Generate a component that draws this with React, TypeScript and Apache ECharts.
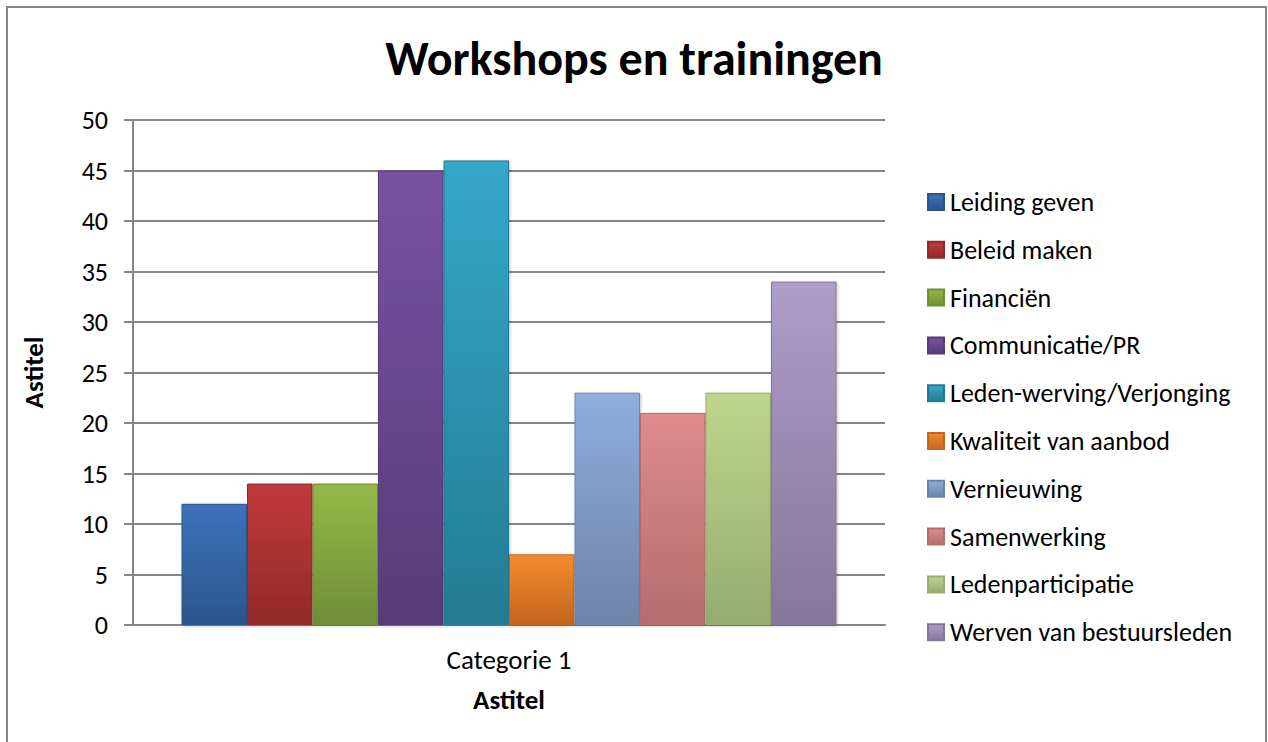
import React, { useEffect, useRef } from "react";
import * as echarts from "echarts";

const categories = ["Categorie 1"];
const seriesNames = [
  "Leiding geven",
  "Beleid maken",
  "Financiën",
  "Communicatie/PR",
  "Leden-werving/Verjonging",
  "Kwaliteit van aanbod",
  "Vernieuwing",
  "Samenwerking",
  "Ledenparticipatie",
  "Werven van bestuursleden",
];
const seriesValues = [12, 14, 14, 45, 46, 7, 23, 21, 23, 34];
const topColors = ["#3c73bc", "#c23a3b", "#94b948", "#7653a2", "#35a7c9", "#f48b2f", "#90addd", "#e18b8b", "#bed58e", "#ad9dc9"];
const bottomColors = ["#2b558d", "#92292a", "#6f8e37", "#573c78", "#247b92", "#c4661e", "#6d84aa", "#b36d6d", "#96ac70", "#85779c"];
const yTicks = [0, 5, 10, 15, 20, 25, 30, 35, 40, 45, 50];

const FONT = "Carlito, Lato, 'Open Sans', sans-serif";

export default function App() {
  const ref = useRef<HTMLDivElement>(null);
  useEffect(() => {
    if (!ref.current) return;
    const chart = echarts.init(ref.current, undefined, { renderer: "svg" });
    const series = seriesNames.map((name, i) => ({
      name,
      type: "bar",
      barGap: "0%",
      barCategoryGap: "12.9%",
      data: [seriesValues[i]],
      itemStyle: {
        color: new echarts.graphic.LinearGradient(0, 0, 0, 1, [
          { offset: 0, color: topColors[i] },
          { offset: 1, color: bottomColors[i] },
        ]),
        borderColor: bottomColors[i],
        borderWidth: 1,
        shadowColor: "rgba(0,0,0,0.25)",
        shadowBlur: 3,
        shadowOffsetX: 1,
        shadowOffsetY: 1,
      },
    }));
    chart.setOption({
      animation: false,
      backgroundColor: "#ffffff",
      textStyle: { fontFamily: FONT },
      title: {
        text: "Workshops en trainingen",
        left: "center",
        top: 34,
        padding: 0,
        textStyle: { fontFamily: FONT, fontSize: 48, fontWeight: "bold", color: "#000" },
      },
      legend: {
        orient: "vertical",
        left: 927,
        top: 189,
        padding: 0,
        itemWidth: 16,
        itemHeight: 16,
        itemGap: 21.8,
        icon: "rect",
        data: seriesNames,
        textStyle: { fontFamily: FONT, fontSize: 26, color: "#000", lineHeight: 26, padding: [0, 0, 0, 1] },
      },
      grid: { left: 133, right: 383, top: 120, bottom: 117, containLabel: false },
      xAxis: {
        type: "category",
        data: categories,
        name: "Astitel",
        nameLocation: "middle",
        nameGap: 61,
        nameTextStyle: { fontFamily: FONT, fontSize: 27, fontWeight: "bold", color: "#000" },
        axisLine: { show: true, lineStyle: { color: "#868686", width: 2 } },
        axisTick: { show: false },
        axisLabel: { fontFamily: FONT, fontSize: 27, color: "#000", margin: 21 },
      },
      yAxis: {
        type: "value",
        min: yTicks[0],
        max: yTicks[yTicks.length - 1],
        interval: 5,
        name: "Astitel",
        nameLocation: "middle",
        nameRotate: 90,
        nameGap: 86,
        nameTextStyle: { fontFamily: FONT, fontSize: 27, fontWeight: "bold", color: "#000" },
        axisLine: { show: true, lineStyle: { color: "#868686", width: 2 } },
        axisTick: { show: true, inside: false, length: 9, lineStyle: { color: "#868686", width: 2 } },
        axisLabel: { fontFamily: FONT, fontSize: 26, color: "#000", margin: 25 },
        splitLine: { show: true, lineStyle: { color: "#868686", width: 2 } },
      },
      graphic: [
        {
          type: "rect",
          shape: { x: 7, y: 7, width: 1259, height: 745 },
          style: { fill: "none", stroke: "#868686", lineWidth: 2 },
          silent: true,
          z: 100,
        },
      ],
      series,
    });
    return () => chart.dispose();
  }, []);
  return (
    <div
      ref={ref}
      style={{ position: "fixed", left: 0, top: 0, width: 1268, height: 742 }}
    />
  );
}
